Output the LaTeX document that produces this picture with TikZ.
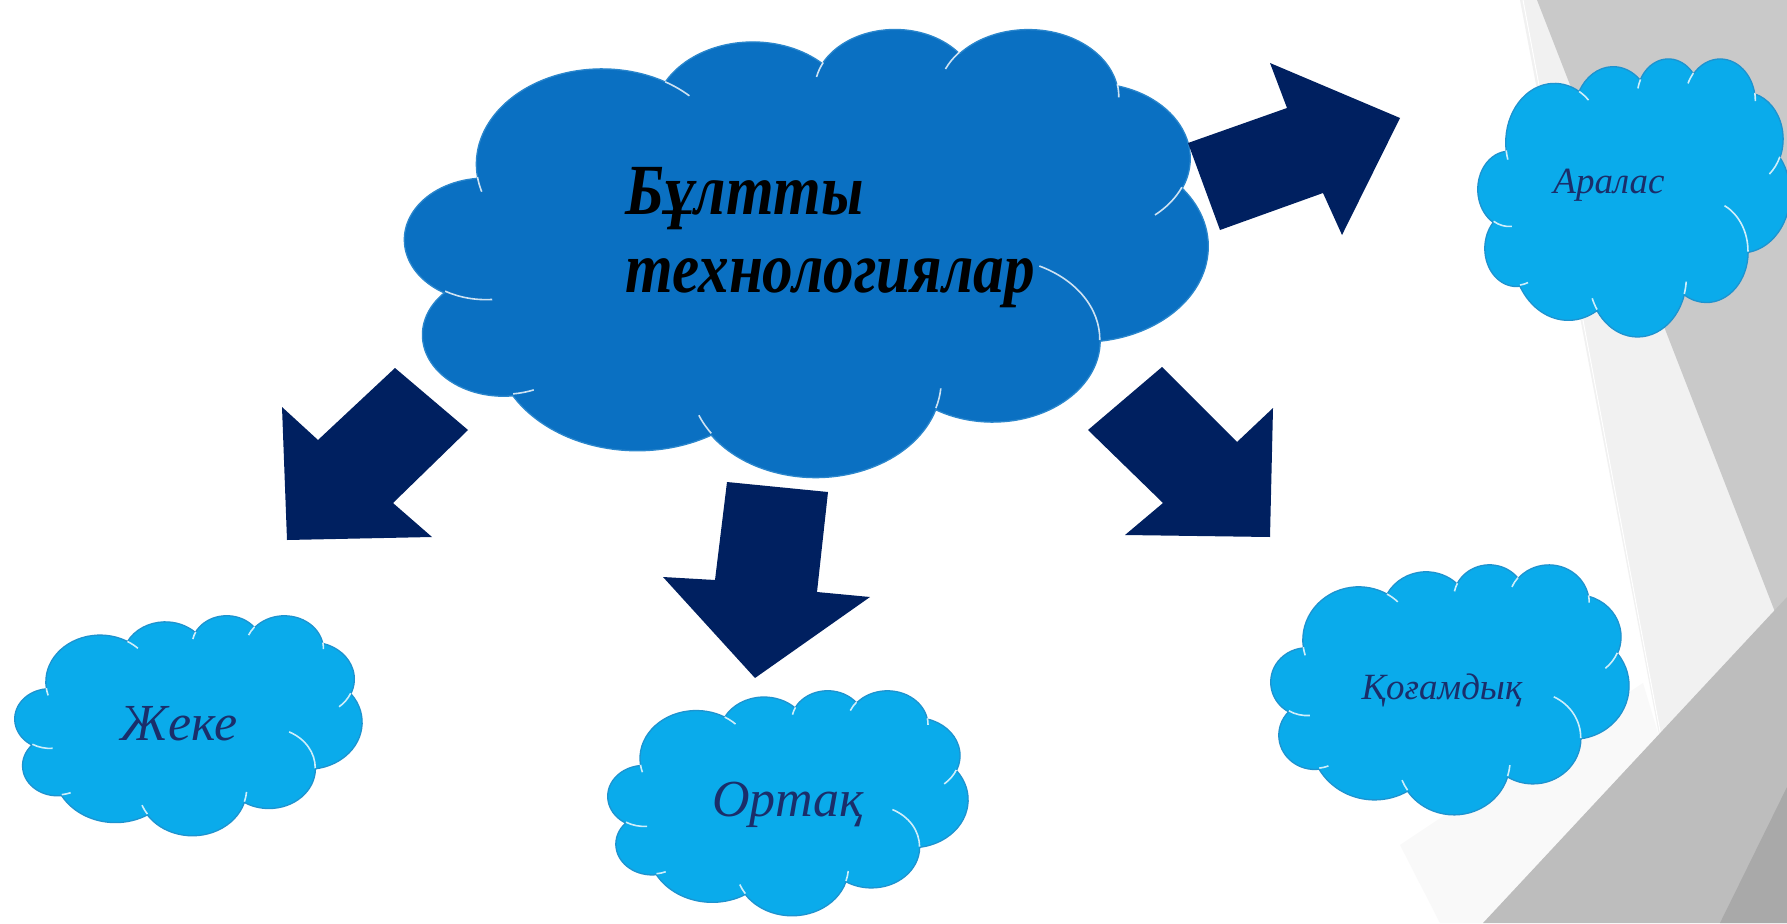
\documentclass[tikz,border=0pt]{standalone}
\usepackage{fontspec}
\setmainfont{Liberation Serif}
\newfontfamily\titlefont[FakeStretch=0.85]{Liberation Serif}
\definecolor{navy}{HTML}{002060}
\definecolor{mainblue}{HTML}{0A70C2}
\definecolor{mainline}{HTML}{2A86CC}
\definecolor{lightblue}{HTML}{0AABEB}
\definecolor{lightline}{HTML}{1E93CF}
\definecolor{labelnavy}{HTML}{1A2E6A}
\definecolor{facetlight}{HTML}{F1F1F1}
\definecolor{facetmid}{HTML}{C9C9C9}
\definecolor{facetdark}{HTML}{BDBDBD}
\definecolor{facetdarker}{HTML}{A9A9A9}
% parametric angles of the arcs of a PowerPoint-like cloud
\newcommand\mkang[5]{%
  \pgfmathsetmacro\tmpA{atan2((#2)*sin(#4),(#3)*cos(#4))}%
  \pgfmathsetmacro\tmpB{atan2((#2)*sin(#4+#5),(#3)*cos(#4+#5))}%
  \pgfmathsetmacro\tmpE{\tmpA+mod(\tmpB-\tmpA+720,360)}%
  \expandafter\xdef\csname cldS#1\endcsname{\tmpA}%
  \expandafter\xdef\csname cldE#1\endcsname{\tmpE}}
% #1 left, #2 top, #3 width, #4 height, #5 fill, #6 outline, #7 inner arc colour
\newcommand\ppcloud[7]{%
  \pgfmathsetmacro\cldsx{#3/4320}\pgfmathsetmacro\cldsy{#4/4320}%
  \begin{scope}[shift={(#1,#2)}, x=\cldsx pt, y=-\cldsy pt]
    \filldraw[fill=#5, draw=#6, line width=1.3pt, line join=round]
      (390,1437)
      arc[x radius=675.3, y radius=919.0, start angle=\cldSa, end angle=\cldEa]
      arc[x radius=533.3, y radius=726.7, start angle=\cldSb, end angle=\cldEb]
      arc[x radius=436.5, y radius=594.5, start angle=\cldSc, end angle=\cldEc]
      arc[x radius=485.7, y radius=659.5, start angle=\cldSd, end angle=\cldEd]
      arc[x radius=533.3, y radius=727.3, start angle=\cldSe, end angle=\cldEe]
      arc[x radius=677.5, y radius=922.0, start angle=\cldSf, end angle=\cldEf]
      arc[x radius=578.5, y radius=786.7, start angle=\cldSg, end angle=\cldEg]
      arc[x radius=675.2, y radius=921.5, start angle=\cldSh, end angle=\cldEh]
      arc[x radius=772.0, y radius=1054.3, start angle=\cldSi, end angle=\cldEi]
      arc[x radius=436.0, y radius=591.8, start angle=\cldSj, end angle=\cldEj]
      arc[x radius=434.5, y radius=594.5, start angle=\cldSk, end angle=\cldEk]
      -- cycle;
    \draw[draw=#7, line width=1.6pt, opacity=0.8]
      (469.3,2617.7) arc[x radius=434.5, y radius=594.5, start angle=\cldSA, end angle=\cldEA]
      (692.8,3489.9) arc[x radius=436.0, y radius=591.8, start angle=\cldSB, end angle=\cldEB]
      (1647.8,3909.0) arc[x radius=675.2, y radius=921.5, start angle=\cldSC, end angle=\cldEC]
      (2882.7,3475.1) arc[x radius=675.2, y radius=921.5, start angle=\cldSD, end angle=\cldED]
      (3412.9,2295.4) arc[x radius=578.5, y radius=786.7, start angle=\cldSE, end angle=\cldEE]
      (4179.8,1535.4) arc[x radius=533.3, y radius=727.3, start angle=\cldSF, end angle=\cldEF]
      (3832.4,542.6) arc[x radius=485.7, y radius=659.5, start angle=\cldSG, end angle=\cldEG]
      (2907.8,395.2) arc[x radius=485.7, y radius=659.5, start angle=\cldSH, end angle=\cldEH]
      (2214.1,472.0) arc[x radius=436.5, y radius=594.5, start angle=\cldSI, end angle=\cldEI]
      (1400.0,519.2) arc[x radius=675.3, y radius=919.0, start angle=\cldSJ, end angle=\cldEJ]
      (412.7,1578.9) arc[x radius=675.3, y radius=919.0, start angle=\cldSK, end angle=\cldEK];
  \end{scope}}
\mkang{a}{675.3}{919.0}{-190.4875}{123.7805}
\mkang{b}{533.3}{726.7}{-144.1024}{89.9452}
\mkang{c}{436.5}{594.5}{-145.8079}{99.7230}
\mkang{d}{485.7}{659.5}{-130.9861}{117.2417}
\mkang{e}{533.3}{727.3}{-78.7089}{109.0269}
\mkang{f}{677.5}{922.0}{-46.2673}{130.2690}
\mkang{g}{578.5}{786.7}{0.6250}{114.0333}
\mkang{h}{675.2}{921.5}{22.4516}{115.1726}
\mkang{i}{772.0}{1054.3}{66.2426}{75.7110}
\mkang{j}{436.0}{591.8}{-274.9421}{146.7356}
\mkang{k}{434.5}{594.5}{-246.8285}{152.5189}
\mkang{A}{434.5}{594.5}{86.7420}{26.4295}
\mkang{B}{436.0}{591.8}{73.6105}{11.4475}
\mkang{C}{675.2}{921.5}{137.6242}{14.0811}
\mkang{D}{675.2}{921.5}{6.4533}{15.9984}
\mkang{E}{578.5}{786.7}{-70.2924}{70.9174}
\mkang{F}{533.3}{727.3}{30.3180}{27.7515}
\mkang{G}{485.7}{659.5}{-13.7443}{14.8589}
\mkang{H}{485.7}{659.5}{-149.1815}{18.1954}
\mkang{I}{436.5}{594.5}{-163.4943}{17.6864}
\mkang{J}{675.3}{919.0}{-66.7070}{12.3194}
\mkang{K}{675.3}{919.0}{157.6544}{11.8582}
\begin{document}
\begin{tikzpicture}[x=1pt,y=-1pt,
  blockarrow/.style={fill=navy},
  cloudlabel/.style={text=labelnavy, inner sep=0pt}]
\useasboundingbox (0,0) rectangle (1787,923);
\fill[white] (0,0) rectangle (1787,923);
% background facets
\fill[facetlight] (1520,0) -- (1787,0) -- (1787,607) -- (1660,740) -- cycle;
\fill[facetmid] (1537,0) -- (1787,0) -- (1787,607) -- (1775,612) -- cycle;
\draw[white, line width=1pt] (1523,0) -- (1662,742);
\fill[facetlight!45!white] (1400,845) -- (1643,683) -- (1660,740) -- (1483,923) -- (1440,923) -- cycle;
\fill[facetdark] (1787,597) -- (1483,923) -- (1787,923) -- cycle;
\fill[facetdarker] (1787,787) -- (1720,923) -- (1787,923) -- cycle;

% clouds
\ppcloud{405}{28}{803}{448}{mainblue}{mainline}{white}
\ppcloud{1478}{58}{312}{278}{lightblue}{lightline}{white}
\ppcloud{15}{615}{347}{220}{lightblue}{lightline}{white}
\ppcloud{608}{690}{360}{225}{lightblue}{lightline}{white}
\ppcloud{1271}{564}{358}{250}{lightblue}{lightline}{white}
\coordinate (main) at (806,252);
\coordinate (aralas) at (1634,197);
\coordinate (zheke) at (188,725);
\coordinate (ortaq) at (788,802);
\coordinate (qogam) at (1450,689);

% labels
\node[font=\titlefont\fontsize{72}{78}\selectfont\bfseries\itshape, align=left, text=black] (title) at (830,238) {Бұлтты\\технологиялар};
\node[cloudlabel, font=\fontsize{37}{44}\selectfont\itshape] (laralas) at (1609,185) {Аралас};
\node[cloudlabel, font=\fontsize{52}{60}\selectfont\itshape] (lzheke) at (179,724) {Жеке};
\node[cloudlabel, font=\fontsize{52}{60}\selectfont\itshape] (lortaq) at (788,805) {Ортақ};
\node[cloudlabel, font=\fontsize{37}{44}\selectfont\itshape] (lqogam) at (1442,690) {Қоғамдық};

% block arrows
\fill[blockarrow] (1188,143) -- (1287,108) -- (1270,63) -- (1400,118) -- (1342,235) -- (1323,193) -- (1220,230) -- cycle;
\fill[blockarrow] (395,368) -- (468,430) -- (393,503) -- (432,537) -- (287,540) -- (282,407) -- (318,440) -- cycle;
\fill[blockarrow] (727,482) -- (828,492) -- (817,592) -- (870,597) -- (755,678) -- (663,577) -- (715,580) -- cycle;
\fill[blockarrow] (1088,430) -- (1162,367) -- (1237,442) -- (1273,408) -- (1270,537) -- (1125,535) -- (1163,503) -- cycle;
\end{tikzpicture}
\end{document}
